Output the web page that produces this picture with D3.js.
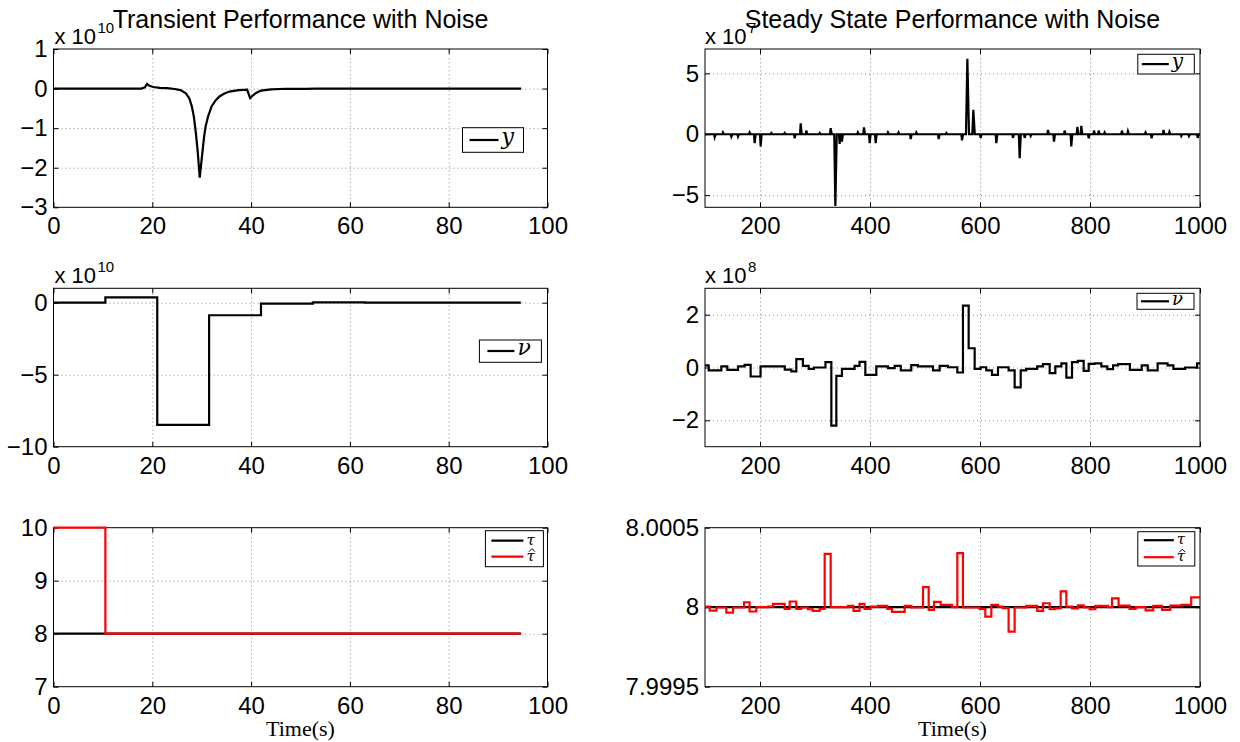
<!DOCTYPE html>
<html>
<head>
<meta charset="utf-8">
<script src="https://cdn.jsdelivr.net/npm/d3@7"></script>
<style>
  body { margin: 0; background: #fff; }
  svg text { font-family: "Liberation Sans", Arial, sans-serif; fill: #000; }
</style>
</head>
<body>
<svg id="chart" width="1240" height="742"></svg>
<script>
// ---- transient run (0..100 s) ----
// y, in units of 1e10
const trY = [[0,0],[17.8,0],[18.5,0.03],[18.95,0.12],[19.4,0.07],[20.2,0.04],[21.5,0.02],[23,0.01],
  [24.5,-0.01],[25.7,-0.04],[26.8,-0.12],[27.5,-0.25],[28,-0.45],[28.4,-0.7],[28.8,-1.1],[29.2,-1.6],
  [29.6,-2.25],[30.2,-1.54],[30.5,-1.2],[30.8,-0.95],[31.3,-0.7],[32,-0.45],[32.8,-0.3],[33.6,-0.2],
  [34.5,-0.13],[35.6,-0.075],[37.5,-0.04],[39.2,-0.03],[39.8,-0.24],[40.4,-0.17],
  [41,-0.11],[42,-0.05],[44,-0.02],[47,-0.005],[51,-0.01],[53,0],[94.65,0]];
// nu, in units of 1e10 (piecewise constant)
const trNuTimes  = [0, 10.5, 21, 31.5, 42, 52.5, 63, 73.5, 84, 94.6];
const trNuValues = [0, 0.37, -8.49, -0.87, -0.07, 0.02, 0, 0.01, 0, 0];
const trTauTimes  = [0, 94.6];
const trTauValues = [8, 8];
const trTauHatTimes  = [0, 10.5, 94.6];
const trTauHatValues = [10, 8, 8];

// ---- steady state run (100..1000 s) ----
// y, in units of 1e7
const ssY = [[100,0],
  [116.4,0],[117.6,-0.25],[119.4,0],[131.5,0],[132.7,0.15],[134.5,0],[146.7,0],[147.9,-0.2],[149.7,0],
  [158.8,0],[160,-0.2],[161.8,0],[180,0],[181.2,0.15],[183,0],[189.1,0],[190.3,-0.73],[192.1,0],
  [200,0],[201.2,-1.0],[203,0],[219.4,0],[220.6,0.1],[222.4,0],[243.6,0],[244.8,0.1],[246.6,0],
  [261.8,0],[263,-0.33],[264.8,0],[272.8,0],[274,0.9],[275.8,0],[283,0],[284.2,0.3],[286,0],
  [307.3,0],[308.5,0.1],[310.3,0],[327.3,0],[328.5,0.5],[330.3,0],[335,0],[337,-5.9],[339.5,0],
  [343.6,0],[344.8,-0.8],[346.6,0],[347.8,0],[349,-0.6],[350.8,0],[376.8,0],[378,0.15],[379.8,0],
  [387.8,0],[389,0.57],[390.8,0],[398.2,0],[399.4,-0.73],[401.2,0],[409.1,0],[410.3,-0.73],[412.1,0],
  [431.5,0],[432.7,0.15],[434.5,0],[450.8,0],[452,0.15],[453.8,0],[472.7,0],[473.9,-0.4],[475.7,0],
  [483,0],[484.2,0.15],[486,0],[523.6,0],[524.8,-0.4],[526.6,0],[537.6,0],[538.8,0.1],[540.6,0],
  [566.1,0],[567.3,-0.5],[569.1,0],[574.5,0],[577,6.2],[580,0],[586,0],[587.9,2.0],[590.5,0],
  [600,0],[601.2,-0.3],[603,0],[628.5,0],[629.7,-0.73],[631.5,0],[658.8,0],[660,-0.3],[661.8,0],
  [670.6,0],[672.1,-1.96],[674.2,0],[680,0],[681.2,-0.3],[683,0],[690.9,0],[692.1,-0.15],[693.9,0],
  [722.4,0],[723.6,0.35],[725.4,0],[733.3,0],[734.5,-0.6],[736.3,0],[752.7,0],[753.9,0.3],[755.7,0],
  [764.8,0],[766,-1.0],[767.8,0],[775.8,0],[777,0.6],[778.8,0],[783,0],[784.2,0.68],[786,0],
  [796.4,0],[797.6,-0.33],[799.4,0],[806.1,0],[807.3,0.3],[809.1,0],[814.6,0],[815.8,0.3],[817.6,0],
  [825.4,0],[826.6,0.15],[828.4,0],[856.8,0],[858,0.3],[859.8,0],[867.8,0],[869,0.25],[870.8,0],
  [899.8,0],[901,0.15],[902.8,0],[910.8,0],[912,-0.33],[913.8,0],[932.4,0],[933.6,0.35],[935.4,0],
  [943.2,0],[944.4,0.2],[946.2,0],[964.8,0],[966,-0.15],[967.8,0],[978.8,0],[980,-0.15],[981.8,0],
  [994.6,0],[995.8,-0.3],[997.6,0],[1000,0]];
// nu, in units of 1e8 (piecewise constant)
const ssNuTimes = [100,106.7,129.7,140.6,160,172,183,201,245,257,266,278,288.5,298,319,329.7,338.8,349,
  372,381,391.5,411.5,432.7,444.8,456,475,487,514.5,526.7,541.8,558.8,569,579.4,590.3,601,611.5,621.8,
  632.7,652,663,674,684,704,714.5,726.7,737,748,757,767.3,778,788.5,797.6,808.5,820.6,831.5,842,851,
  872.5,894,905,923,941,951.6,973,994.7,1000];
const ssNuValues = [0.08,-0.11,0.04,-0.09,0.04,0.1,-0.34,0.04,-0.08,-0.15,0.32,0.06,-0.05,0,0.2,-2.2,-0.32,-0.05,
  0.06,0.21,-0.28,0.04,-0.02,0.06,-0.11,0.09,0.04,-0.11,0.06,0.01,-0.19,2.34,0.73,-0.05,0.01,-0.11,-0.28,
  0.01,-0.11,-0.75,-0.11,-0.05,0.04,0.13,-0.21,0.04,0.16,-0.38,0.2,0.25,-0.13,0.14,0.16,0.04,-0.06,0.08,0.13,
  -0.09,0.08,-0.11,0.16,0.08,-0.05,0,0.16,0.16];
const ssTauTimes  = [100, 1000];
const ssTauValues = [8, 8];
// tau hat, offset from 8 in units of 1e-4 (piecewise constant)
const ssTauHatTimes = [100,108.5,120.6,138.8,151,171,181,193.3,214.5,223.6,244.8,254,266,275,287,296,308.5,
  317.6,328.5,360,370,381,390,401,414.5,431.5,440,463,475,496.4,506.7,516.4,528.5,549,558.8,569,599.4,
  609.7,620.6,632.7,641.8,652,663,684,704,714.5,726.7,735.8,746.7,757,767.3,778,788.5,799.4,809.7,832.7,
  840,852,872,883,901,915,931,946,966,984,1000];
const ssTauHatOffsets = [0.04,-0.21,-0.02,-0.34,-0.02,0.31,-0.27,0,0.04,0.21,-0.1,0.36,-0.1,-0.02,-0.13,-0.23,-0.1,
  3.35,0,0.08,-0.23,0.21,-0.1,0.04,0.08,-0.1,-0.3,0.08,-0.02,1.26,-0.17,0.33,0.14,0,3.4,-0.02,-0.1,
  -0.59,0.14,0.04,-0.06,-1.53,-0.02,0.08,-0.23,0.25,-0.13,-0.08,1.0,0.04,-0.08,0.12,-0.02,-0.13,0.08,0,
  0.56,0.1,-0.1,0,-0.2,0.08,-0.17,0.1,0.15,0.62,0.62];

// tick values
const trXTicks = [0, 20, 40, 60, 80, 100];
const ssXTicks = [200, 400, 600, 800, 1000];
const trYTicks = [1, 0, -1, -2, -3];
const trNuTicks = [0, -5, -10];
const trTauTicks = [7, 8, 9, 10];
const ssYTicks = [5, 0, -5];
const ssNuTicks = [2, 0, -2];
const ssTauTicks = [7.9995, 8, 8.0005];

const zip = (ts, vs) => ts.map((t, i) => [t, vs[i]]);
const minus = d => d < 0 ? "\u2212" + (-d) : String(d);

const svg = d3.select("#chart");
const leftCol = [53.5, 547.5], rightCol = [705, 1200];
const rows = [[49, 207.3], [288.3, 446.7], [527.7, 686.7]];

function panel(cfg) {
  const g = svg.append("g");
  const [x0, x1] = cfg.xr, [y0, y1] = cfg.yr;
  const x = d3.scaleLinear().domain(cfg.xd).range([x0, x1]);
  const y = d3.scaleLinear().domain(cfg.yd).range([y1, y0]);

  g.append("rect").attr("x", x0).attr("y", y0).attr("width", x1 - x0).attr("height", y1 - y0)
    .attr("fill", "#fff");

  // dotted grid
  const inner = (arr, dom) => arr.filter(v => v > d3.min(dom) && v < d3.max(dom));
  g.append("g").attr("transform", `translate(0,${y1})`)
    .call(d3.axisBottom(x).tickValues(inner(cfg.xt, cfg.xd)).tickSize(-(y1 - y0)).tickFormat(""))
    .call(a => a.select(".domain").remove())
    .selectAll("line").attr("stroke", "#8c8c8c").attr("stroke-dasharray", "1,3");
  g.append("g").attr("transform", `translate(${x0},0)`)
    .call(d3.axisLeft(y).tickValues(inner(cfg.yt, cfg.yd)).tickSize(-(x1 - x0)).tickFormat(""))
    .call(a => a.select(".domain").remove())
    .selectAll("line").attr("stroke", "#8c8c8c").attr("stroke-dasharray", "1,3");

  // box + inward ticks
  g.append("rect").attr("x", x0).attr("y", y0).attr("width", x1 - x0).attr("height", y1 - y0)
    .attr("fill", "none").attr("stroke", "#000").attr("stroke-width", 1);
  const style = a => {
    a.select(".domain").remove();
    a.selectAll("line").attr("stroke", "#000");
    a.selectAll("text").style("font-size", "24px")
      .style("font-family", '"Liberation Sans", Arial, sans-serif');
  };
  g.append("g").attr("transform", `translate(0,${y1})`)
    .call(d3.axisBottom(x).tickValues(cfg.xt).tickSize(-5).tickPadding(10).tickFormat(cfg.xf || minus)).call(style);
  g.append("g").attr("transform", `translate(0,${y0})`)
    .call(d3.axisTop(x).tickValues(cfg.xt).tickSize(-5).tickFormat("")).call(style);
  g.append("g").attr("transform", `translate(${x0},0)`)
    .call(d3.axisLeft(y).tickValues(cfg.yt).tickSize(-5).tickPadding(6).tickFormat(cfg.yf || minus)).call(style);
  g.append("g").attr("transform", `translate(${x1},0)`)
    .call(d3.axisRight(y).tickValues(cfg.yt).tickSize(-5).tickFormat("")).call(style);

  // data
  cfg.series.forEach(s => {
    const line = d3.line().x(d => x(d[0])).y(d => y(d[1]))
      .curve(s.step ? d3.curveStepAfter : d3.curveLinear);
    g.append("path").datum(s.data).attr("d", line).attr("fill", "none")
      .attr("stroke", s.color).attr("stroke-width", 2.2).attr("stroke-linejoin", "miter");
  });

  // legend
  const L = cfg.legend;
  g.append("rect").attr("x", L.x).attr("y", L.y).attr("width", L.w).attr("height", L.h)
    .attr("fill", "#fff").attr("stroke", "#000").attr("stroke-width", 1);
  L.items.forEach((it, i) => {
    const ly = L.y + L.first + i * L.step;
    const tx = L.x + L.l1 + 3;
    g.append("line").attr("x1", L.x + L.l0).attr("x2", L.x + L.l1).attr("y1", ly).attr("y2", ly)
      .attr("stroke", it.color).attr("stroke-width", 2.2);
    g.append("text").attr("x", tx).attr("y", ly + 4)
      .style("font-family", '"DejaVu Serif", "Liberation Serif", serif').style("font-style", "italic")
      .style("font-size", L.fs + "px").text(it.label);
    if (it.hat) {
      // circumflex over the estimate symbol
      g.append("path").attr("d", `M${tx + 2.5},${ly - 5} L${tx + 5.5},${ly - 8} L${tx + 8.5},${ly - 5}`)
        .attr("fill", "none").attr("stroke", "#000").attr("stroke-width", 1);
    }
  });
}

function exponent(x, y, sup) {
  svg.append("text").attr("x", x).attr("y", y).style("font-size", "22px").text("x 10");
  svg.append("text").attr("x", x + 43).attr("y", y - 11).style("font-size", "15px").text(sup);
}

// exponent labels first so the titles are drawn over them
exponent(54.5, 44, "10");
exponent(705, 44, "7");
exponent(54.5, 283, "10");
exponent(705, 283, "8");

panel({ xr: leftCol, yr: rows[0], xd: [0, 100], yd: [-3, 1], xt: trXTicks, yt: trYTicks,
  series: [{ data: trY, color: "#000" }],
  legend: { x: 462.5, y: 127.7, w: 61, h: 24.6, first: 12.3, step: 0, l0: 7, l1: 36, fs: 22,
    items: [{ label: "y", color: "#000" }] } });
panel({ xr: rightCol, yr: rows[0], xd: [100, 1000], yd: [-6, 7], xt: ssXTicks, yt: ssYTicks,
  series: [{ data: ssY, color: "#000" }],
  legend: { x: 1137.8, y: 54.3, w: 56.5, h: 19.7, first: 9.8, step: 0, l0: 4, l1: 31, fs: 20,
    items: [{ label: "y", color: "#000" }] } });
panel({ xr: leftCol, yr: rows[1], xd: [0, 100], yd: [-10, 1], xt: trXTicks, yt: trNuTicks,
  series: [{ data: zip(trNuTimes, trNuValues), color: "#000", step: true }],
  legend: { x: 479.4, y: 340, w: 62, h: 22.3, first: 11, step: 0, l0: 8, l1: 35, fs: 22,
    items: [{ label: "\u03bd", color: "#000" }] } });
panel({ xr: rightCol, yr: rows[1], xd: [100, 1000], yd: [-3, 3], xt: ssXTicks, yt: ssNuTicks,
  series: [{ data: zip(ssNuTimes, ssNuValues), color: "#000", step: true }],
  legend: { x: 1137, y: 293.3, w: 57, h: 16, first: 8, step: 0, l0: 4, l1: 32, fs: 18,
    items: [{ label: "\u03bd", color: "#000" }] } });
panel({ xr: leftCol, yr: rows[2], xd: [0, 100], yd: [7, 10], xt: trXTicks, yt: trTauTicks,
  series: [{ data: zip(trTauTimes, trTauValues), color: "#000", step: true },
           { data: zip(trTauHatTimes, trTauHatValues), color: "#ff0000", step: true }],
  legend: { x: 485.4, y: 530.7, w: 58, h: 36, first: 10, step: 16, l0: 6, l1: 38, fs: 15,
    items: [{ label: "\u03c4", color: "#000" }, { label: "\u03c4", color: "#ff0000", hat: true }] } });
panel({ xr: rightCol, yr: rows[2], xd: [100, 1000], yd: [7.9995, 8.0005], xt: ssXTicks, yt: ssTauTicks,
  yf: d => d === 8 ? "8" : d.toFixed(4),
  series: [{ data: zip(ssTauTimes, ssTauValues), color: "#000", step: true },
           { data: zip(ssTauHatTimes, ssTauHatOffsets.map(v => 8 + v * 1e-4)), color: "#ff0000", step: true }],
  legend: { x: 1137.8, y: 531.7, w: 57, h: 34.3, first: 8.5, step: 17, l0: 6, l1: 36, fs: 15,
    items: [{ label: "\u03c4", color: "#000" }, { label: "\u03c4", color: "#ff0000", hat: true }] } });

// titles and time labels
svg.append("text").attr("x", 300.5).attr("y", 28).attr("text-anchor", "middle")
  .style("font-size", "25px").text("Transient Performance with Noise");
svg.append("text").attr("x", 952.5).attr("y", 28).attr("text-anchor", "middle")
  .style("font-size", "25px").text("Steady State Performance with Noise");
[300.5, 952.5].forEach(cx => {
  svg.append("text").attr("x", cx).attr("y", 736).attr("text-anchor", "middle")
    .style("font-family", '"Liberation Serif", "Times New Roman", serif').style("font-size", "22px")
    .text("Time(s)");
});
</script>
</body>
</html>
